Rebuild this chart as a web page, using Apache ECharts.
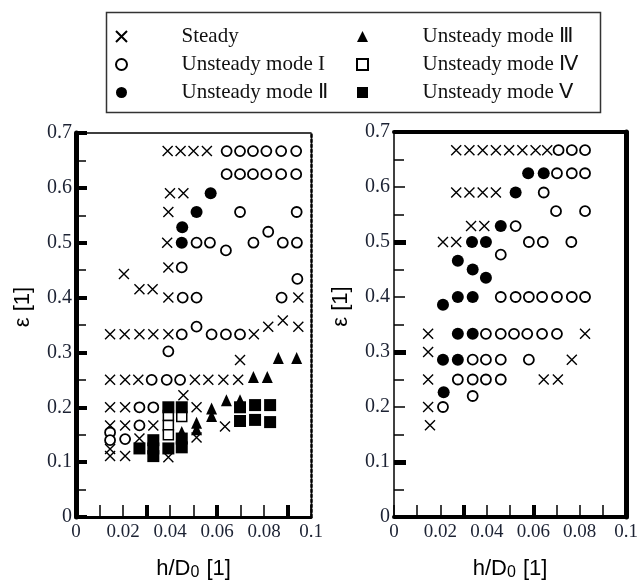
<!DOCTYPE html>
<html>
<head>
<meta charset="utf-8">
<script src="https://cdn.jsdelivr.net/npm/echarts@6/dist/echarts.min.js"></script>
<style>
  html, body { margin: 0; padding: 0; background: #fff; }
  #chart { width: 641px; height: 586px; }
</style>
</head>
<body>
<div id="chart"></div>
<script>
// ---- regime names (legend order) ----
const regimeNames = ['Steady', 'Unsteady mode I', 'Unsteady mode Ⅱ',
                     'Unsteady mode Ⅲ', 'Unsteady mode Ⅳ', 'Unsteady mode Ⅴ'];

// ---- tick labels ----
const xTickLabels = ['0', '0.02', '0.04', '0.06', '0.08', '0.1'];
const yTickLabels = ['0', '0.1', '0.2', '0.3', '0.4', '0.5', '0.6', '0.7'];

// ---- left chart: [h/D0, ε] ----
const leftSteady = [
  [0.039, 0.667], [0.0445, 0.667], [0.050, 0.667], [0.0557, 0.667],
  [0.040, 0.59], [0.0457, 0.59],
  [0.0393, 0.556], [0.0388, 0.5], [0.0393, 0.455],
  [0.0204, 0.443], [0.027, 0.415], [0.0326, 0.415],
  [0.0393, 0.40], [0.0946, 0.40],
  [0.0145, 0.333], [0.0207, 0.333], [0.027, 0.333], [0.0329, 0.333], [0.0393, 0.333], [0.0757, 0.333],
  [0.0818, 0.347], [0.088, 0.358], [0.0946, 0.347],
  [0.0698, 0.286],
  [0.0145, 0.25], [0.0209, 0.25], [0.0265, 0.25], [0.0506, 0.25], [0.0563, 0.25], [0.0627, 0.25], [0.069, 0.25],
  [0.0457, 0.222],
  [0.0145, 0.2], [0.0209, 0.2], [0.0513, 0.2],
  [0.0145, 0.167], [0.0209, 0.167], [0.0329, 0.167], [0.0634, 0.165],
  [0.0513, 0.145], [0.027, 0.143],
  [0.0145, 0.124],
  [0.0145, 0.111], [0.0209, 0.111], [0.0393, 0.109]
];
const leftModeI = [
  [0.0641, 0.667], [0.0698, 0.667], [0.0753, 0.667], [0.081, 0.667], [0.0873, 0.667], [0.0937, 0.667],
  [0.0641, 0.625], [0.0698, 0.625], [0.0753, 0.625], [0.081, 0.625], [0.0873, 0.625], [0.0937, 0.625],
  [0.0698, 0.556], [0.0939, 0.556],
  [0.0513, 0.5], [0.057, 0.5], [0.0755, 0.5], [0.088, 0.5], [0.094, 0.5],
  [0.0638, 0.486], [0.0818, 0.52],
  [0.045, 0.455], [0.0942, 0.434],
  [0.0454, 0.4], [0.0513, 0.4], [0.0875, 0.4],
  [0.045, 0.333], [0.0513, 0.347], [0.0577, 0.333], [0.0638, 0.333], [0.0698, 0.333],
  [0.0393, 0.302],
  [0.0322, 0.25], [0.0386, 0.25], [0.0443, 0.25],
  [0.027, 0.2], [0.0329, 0.2],
  [0.027, 0.167],
  [0.0145, 0.154], [0.0145, 0.14], [0.0209, 0.142]
];
const leftModeII = [[0.0573, 0.59], [0.0513, 0.556], [0.0452, 0.528], [0.045, 0.5]];
const leftModeIII = [
  [0.0861, 0.29], [0.0939, 0.29], [0.0755, 0.255], [0.0814, 0.255],
  [0.064, 0.213], [0.0698, 0.213], [0.0577, 0.198], [0.0577, 0.184],
  [0.0513, 0.172], [0.0513, 0.16], [0.045, 0.155], [0.045, 0.14]
];
const leftModeIV = [[0.0393, 0.185], [0.0393, 0.167], [0.045, 0.183], [0.0393, 0.15]];
const leftModeV = [
  [0.0393, 0.2], [0.045, 0.2], [0.0698, 0.2], [0.0762, 0.204], [0.0826, 0.204],
  [0.0698, 0.175], [0.0762, 0.177], [0.0826, 0.173],
  [0.027, 0.125], [0.0329, 0.125], [0.0329, 0.111], [0.0393, 0.125],
  [0.0329, 0.14], [0.045, 0.143], [0.045, 0.127]
];

// ---- right chart: [h/D0, ε] ----
const rightSteady = [
  [0.0268, 0.667], [0.0325, 0.667], [0.0382, 0.667], [0.0439, 0.667],
  [0.0496, 0.667], [0.0553, 0.667], [0.061, 0.667], [0.066, 0.667],
  [0.0268, 0.59], [0.0325, 0.59], [0.0382, 0.59], [0.0439, 0.59],
  [0.0332, 0.529], [0.0389, 0.529],
  [0.0211, 0.5], [0.0268, 0.5],
  [0.0147, 0.333], [0.0823, 0.333],
  [0.0147, 0.3], [0.0766, 0.286],
  [0.0147, 0.25], [0.0645, 0.25], [0.0706, 0.25],
  [0.0147, 0.2], [0.0155, 0.167]
];
const rightModeI = [
  [0.0709, 0.667], [0.0766, 0.667], [0.0823, 0.667],
  [0.0702, 0.625], [0.0766, 0.625], [0.0823, 0.625],
  [0.0645, 0.59], [0.0698, 0.556], [0.0823, 0.556],
  [0.0524, 0.529],
  [0.0581, 0.5], [0.0641, 0.5], [0.0764, 0.5],
  [0.046, 0.477],
  [0.046, 0.4], [0.0524, 0.4], [0.0581, 0.4], [0.0638, 0.4], [0.0702, 0.4], [0.0766, 0.4], [0.0823, 0.4],
  [0.0396, 0.333], [0.046, 0.333], [0.0517, 0.333], [0.0574, 0.333], [0.0638, 0.333], [0.0702, 0.333],
  [0.0339, 0.286], [0.0396, 0.286], [0.046, 0.286], [0.0581, 0.286],
  [0.0275, 0.25], [0.0339, 0.25], [0.0396, 0.25], [0.046, 0.25],
  [0.0339, 0.22], [0.0211, 0.2]
];
const rightModeII = [
  [0.0578, 0.625], [0.0645, 0.625], [0.0524, 0.59], [0.046, 0.529],
  [0.0336, 0.5], [0.0396, 0.5], [0.0275, 0.466], [0.0339, 0.45], [0.0396, 0.435],
  [0.0275, 0.4], [0.0339, 0.4], [0.0211, 0.386],
  [0.0275, 0.333], [0.0339, 0.333], [0.0211, 0.286], [0.0275, 0.286], [0.0214, 0.227]
];

// ---- marker shapes ----
const CROSS = 'path://M0,0L10,10M10,0L0,10';
const TRIANGLE = 'path://M5,0L10,10L0,10Z';
const SQUARE = 'path://M0,0L10,0L10,10L0,10Z';
const CIRCLE = 'path://M0,5A5,5 0 1,1 10,5A5,5 0 1,1 0,5Z';

const regimeStyle = [
  { symbol: CROSS, symbolSize: 10, itemStyle: { color: 'rgba(0,0,0,0)', borderColor: '#000', borderWidth: 1.4, opacity: 1 } },
  { symbol: 'circle', symbolSize: 10, itemStyle: { color: '#fff', borderColor: '#000', borderWidth: 1.8, opacity: 1 } },
  { symbol: 'circle', symbolSize: 12, itemStyle: { color: '#000', opacity: 1 } },
  { symbol: TRIANGLE, symbolSize: [11, 12], itemStyle: { color: '#000', opacity: 1 } },
  { symbol: SQUARE, symbolSize: 10, itemStyle: { color: '#fff', borderColor: '#000', borderWidth: 1.5, opacity: 1 } },
  { symbol: SQUARE, symbolSize: 12, itemStyle: { color: '#000', opacity: 1 } }
];
const legendIcons = [CROSS, CIRCLE, CIRCLE, TRIANGLE, SQUARE, SQUARE];

const serif = "'Liberation Serif', 'Times New Roman', serif";
const sans = "'Liberation Sans', Arial, sans-serif";
const tickColor = '#1c2233';

function pickLabel(list, v) {
  const hit = list.find(t => Math.abs(parseFloat(t) - v) < 1e-9);
  return hit === undefined ? '' : hit;
}

function scatter(idx, data, xi, yi) {
  const s = regimeStyle[idx];
  return {
    type: 'scatter', name: regimeNames[idx], data: data,
    xAxisIndex: xi, yAxisIndex: yi,
    symbol: s.symbol, symbolSize: s.symbolSize, itemStyle: s.itemStyle,
    emphasis: { disabled: true }
  };
}

const xName = {
  name: 'h/D{s|0} [1]', nameLocation: 'middle', nameGap: 39,
  nameTextStyle: {
    fontFamily: sans, fontSize: 22, color: '#000',
    rich: { s: { fontFamily: sans, fontSize: 16, color: '#000', verticalAlign: 'top', padding: [9, 1, 0, 0] } }
  }
};
const yName = {
  name: 'ε [1]', nameLocation: 'middle', nameGap: 42,
  nameTextStyle: { fontFamily: sans, fontSize: 22, color: '#000', padding: [0, 0, 0, 36] }
};

function mainX(grid, lineW) {
  return Object.assign({
    gridIndex: grid, type: 'value', position: 'bottom', min: 0, max: 0.1, interval: 0.01,
    axisLine: { onZero: false, lineStyle: { color: '#000', width: lineW } },
    axisTick: { inside: true, length: 12, lineStyle: { color: '#000', width: 1.5 } },
    axisLabel: { margin: 6, fontFamily: serif, fontSize: 19, color: tickColor,
                 formatter: v => pickLabel(xTickLabels, v) },
    splitLine: { show: false }
  }, xName);
}
function frameX(grid, lineW) {
  return {
    gridIndex: grid, type: 'value', position: 'top', min: 0, max: 0.1,
    axisLine: { onZero: false, lineStyle: { color: '#000', width: lineW } },
    axisTick: { show: false }, axisLabel: { show: false }, splitLine: { show: false }
  };
}
function boldTicksX(grid, values) {
  return {
    gridIndex: grid, type: 'value', position: 'bottom', min: 0, max: 0.1,
    axisLine: { show: false },
    axisTick: { inside: true, length: 12, customValues: values, lineStyle: { color: '#000', width: 4 } },
    axisLabel: { show: false }, splitLine: { show: false }
  };
}
function mainY(grid, lineW, tickW) {
  return Object.assign({
    gridIndex: grid, type: 'value', position: 'left', min: 0, max: 0.7, interval: 0.1,
    axisLine: { onZero: false, lineStyle: { color: '#000', width: lineW } },
    axisTick: { inside: true, length: 11, lineStyle: { color: '#000', width: tickW } },
    minorTick: { show: true, splitNumber: 2, length: 10, lineStyle: { color: '#000', width: 1.5 } },
    axisLabel: { margin: 4, fontFamily: serif, fontSize: 20, color: tickColor,
                 formatter: v => pickLabel(yTickLabels, v) },
    splitLine: { show: false }, minorSplitLine: { show: false }
  }, yName);
}
function frameY(grid, lineStyle) {
  return {
    gridIndex: grid, type: 'value', position: 'right', min: 0, max: 0.7,
    axisLine: { onZero: false, lineStyle: Object.assign({ color: '#000' }, lineStyle) },
    axisTick: { show: false }, axisLabel: { show: false }, splitLine: { show: false }
  };
}

const legendText = { fontFamily: serif, fontSize: 21, color: '#111', lineHeight: 20 };

const option = {
  animation: false,
  backgroundColor: '#fff',
  grid: [
    { left: 76, top: 133, width: 235, height: 391 },
    { left: 394, top: 132, width: 234, height: 391 }
  ],
  xAxis: [
    mainX(0, 3), frameX(0, 1.5), boldTicksX(0, [0.03, 0.06, 0.09]),
    mainX(1, 4), frameX(1, 4), boldTicksX(1, [0.03, 0.06])
  ],
  yAxis: [
    mainY(0, 5, 4), frameY(0, { type: 'dotted', width: 2.5 }),
    mainY(1, 1.5, 1.5), frameY(1, { width: 5 }),
    {
      gridIndex: 1, type: 'value', position: 'left', min: 0, max: 0.7,
      axisLine: { show: false },
      axisTick: { inside: true, length: 12, customValues: [0.1, 0.3, 0.5], lineStyle: { color: '#000', width: 5 } },
      axisLabel: { show: false }, splitLine: { show: false }
    }
  ],
  legend: [
    {
      left: 110, top: 21, orient: 'vertical', itemGap: 7, itemWidth: 110, itemHeight: 11,
      selectedMode: false, textStyle: legendText,
      data: [0, 1, 2].map(i => ({ name: regimeNames[i], icon: legendIcons[i] }))
    },
    {
      left: 351, top: 21, orient: 'vertical', itemGap: 7, itemWidth: 110, itemHeight: 11,
      selectedMode: false, textStyle: legendText,
      data: [3, 4, 5].map(i => ({ name: regimeNames[i], icon: legendIcons[i] }))
    }
  ],
  graphic: [
    { type: 'rect', left: 104, top: 10, shape: { width: 494, height: 100 },
      style: { fill: 'none', stroke: '#333', lineWidth: 1.5 }, silent: true }
  ],
  series: [
    scatter(0, leftSteady, 0, 0),
    scatter(1, leftModeI, 0, 0),
    scatter(2, leftModeII, 0, 0),
    scatter(3, leftModeIII, 0, 0),
    scatter(4, leftModeIV, 0, 0),
    scatter(5, leftModeV, 0, 0),
    scatter(0, rightSteady, 3, 2),
    scatter(1, rightModeI, 3, 2),
    scatter(2, rightModeII, 3, 2)
  ]
};

const chart = echarts.init(document.getElementById('chart'), null, { renderer: 'canvas' });
chart.setOption(option);
</script>
</body>
</html>
